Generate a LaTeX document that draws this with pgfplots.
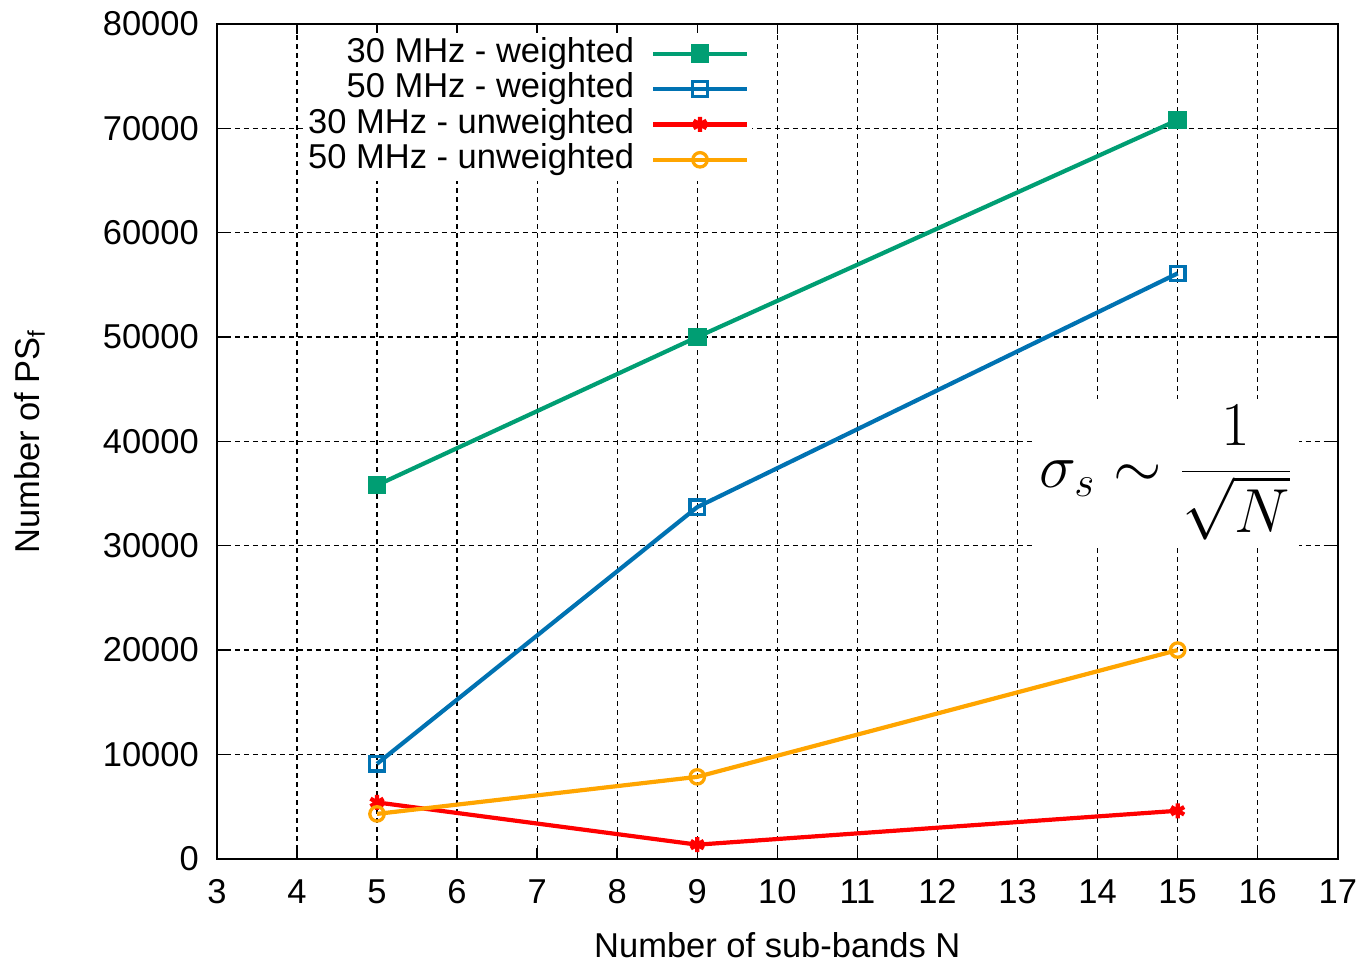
\documentclass[border=0pt]{standalone}
\usepackage{fontspec}
\setmainfont{Liberation Sans}
\usepackage{pgfplots}
\pgfplotsset{compat=1.18}

\definecolor{cgreen}{RGB}{0,158,115}
\definecolor{cblue}{RGB}{0,114,178}
\definecolor{cred}{RGB}{255,0,0}
\definecolor{corange}{RGB}{255,165,0}

\newcommand{\lblfont}{\fontsize{11.5}{13}\selectfont}

\begin{document}
\begin{tikzpicture}
\begin{axis}[
    scale only axis,
    width=373.7pt, height=278.3pt,
    xmin=3, xmax=17, ymin=0, ymax=80000,
    xtick={3,4,...,17},
    ytick={0,10000,...,80000},
    scaled ticks=false,
    /pgf/number format/1000 sep={},
    /pgf/number format/assume math mode=true,
    tick label style={font=\lblfont},
    xticklabel style={yshift=-3.5pt},
    yticklabel style={xshift=-2.5pt},
    label style={font=\lblfont},
    xlabel={Number of sub-bands N},
    ylabel={Number of PS\textsubscript{f}},
    xlabel style={at={(axis description cs:0.5,-0.103)}, anchor=center},
    ylabel style={at={(axis description cs:-0.167,0.5)}, anchor=center},
    grid=major,
    major grid style={black, line width=0.4pt, dash pattern=on 1.6pt off 1.4pt},
    axis line style={black, line width=0.6pt},
    major tick length=3.5pt,
    tick style={black, line width=0.5pt},
    legend style={
        at={(0.478,0.99)}, anchor=north east,
        draw=none, fill=white, font=\lblfont,
        legend plot pos=right, cells={anchor=east},
        inner sep=1pt, column sep=5pt,
        nodes={inner sep=0.6pt, text height=8.2pt, text depth=2.4pt},
    },
    legend image code/.code={
        \draw[mark repeat=2, mark phase=2]
            plot coordinates {(0cm,0cm) (0.55cm,0cm) (1.1cm,0cm)};
    },
    every axis plot/.append style={line width=1.4pt},
]
\addplot[cgreen, mark=square*, mark size=2.4pt, mark options={solid}]
    coordinates {(5,35800) (9,50000) (15,70800)};
\addlegendentry{30 MHz - weighted}
\addplot[cblue, mark=square, mark size=2.4pt, mark options={solid, line width=1.1pt}]
    coordinates {(5,9100) (9,33700) (15,56100)};
\addlegendentry{50 MHz - weighted}
\addplot[cred, mark=asterisk, mark size=2.5pt, mark options={solid, line width=1.4pt}]
    coordinates {(5,5400) (9,1350) (15,4600)};
\addlegendentry{30 MHz - unweighted}
\addplot[corange, mark=o, mark size=2.4pt, mark options={solid, line width=1.1pt}]
    coordinates {(5,4300) (9,7850) (15,20000)};
\addlegendentry{50 MHz - unweighted}

\node[fill=white, inner sep=2pt, font=\fontsize{21}{24}\selectfont]
    at (axis cs:14.86,37000) {$\displaystyle \sigma_s \sim \frac{1}{\sqrt{N}}$};
\end{axis}
\path (current axis.south west) +(-72.3pt,-34pt)
      (current axis.north east) +(9.7pt,8pt);
\end{tikzpicture}
\end{document}
